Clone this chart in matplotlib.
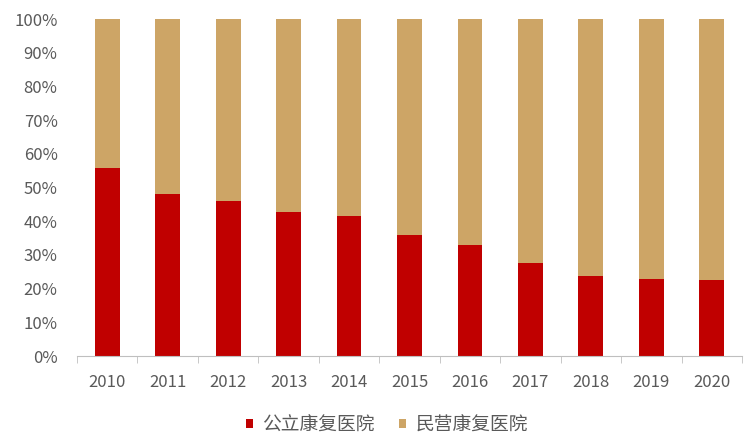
import matplotlib
matplotlib.use("Agg")
import matplotlib.pyplot as plt
import numpy as np
from matplotlib.ticker import PercentFormatter

plt.rcParams["font.family"] = ["Noto Sans CJK SC", "DejaVu Sans"]

years = ["2010", "2011", "2012", "2013", "2014", "2015",
         "2016", "2017", "2018", "2019", "2020"]
public_share = [55.8, 48.2, 46.1, 42.9, 41.6, 35.9, 32.9, 27.6, 23.8, 22.8, 22.6]
private_share = [100 - v for v in public_share]
series_names = ["公立康复医院", "民营康复医院"]

RED = "#C00000"
TAN = "#CDA566"
GRAY = "#595959"

fig = plt.figure(figsize=(7.52, 4.44), dpi=100)
ax = fig.add_axes([0.1024, 0.198, 0.8843, 0.759])

x = np.arange(len(years))
ax.bar(x, public_share, width=0.41, color=RED, label=series_names[0])
ax.bar(x, private_share, width=0.41, bottom=public_share, color=TAN,
       label=series_names[1])

ax.set_xlim(-0.5, len(years) - 0.5)
ax.set_ylim(0, 100)
ax.set_yticks(np.arange(0, 101, 10))
ax.yaxis.set_major_formatter(PercentFormatter(decimals=0))
ax.set_xticks(x)
ax.set_xticklabels(years)
# tick marks sit on the category boundaries
ax.set_xticks(np.arange(-0.5, len(years), 1.0), minor=True)

for side in ["top", "right", "left"]:
    ax.spines[side].set_visible(False)
ax.spines["bottom"].set_color("#BFBFBF")
ax.tick_params(axis="both", which="major", length=0, labelsize=12, colors=GRAY)
ax.tick_params(axis="x", which="major", pad=13)
ax.tick_params(axis="y", pad=14)
ax.tick_params(axis="x", which="minor", length=5, color="#BFBFBF")

fig.legend(loc="center", bbox_to_anchor=(0.5146, 0.043), ncol=2, frameon=False,
           fontsize=13.5, handlelength=0.37, handleheight=0.37, columnspacing=1.33,
           handletextpad=0.48, labelcolor=GRAY)

fig.savefig("out.png", dpi=100)
